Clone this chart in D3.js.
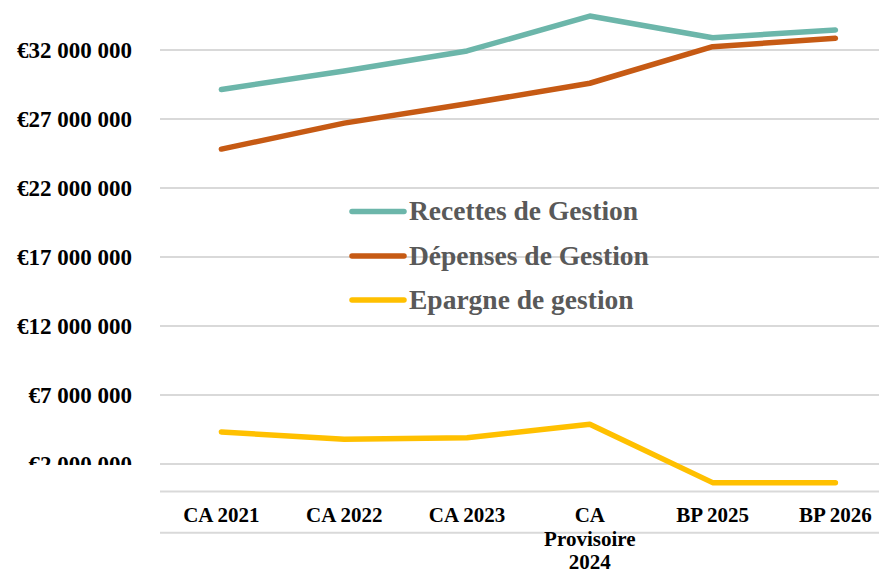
<!DOCTYPE html>
<html><head><meta charset="utf-8">
<script src="https://cdn.jsdelivr.net/npm/d3@7"></script>
<style>html,body{margin:0;padding:0;background:#fff;}svg{display:block;}</style>
</head><body>
<svg id="chart" width="879" height="574"></svg>
<script>
const categories = [["CA 2021"],["CA 2022"],["CA 2023"],["CA","Provisoire","2024"],["BP 2025"],["BP 2026"]];
const recettes = [29140000, 30480000, 31930000, 34460000, 32890000, 33450000];
const depenses = [24820000, 26700000, 28100000, 29590000, 32240000, 32850000];
const epargne  = [4320000, 3800000, 3900000, 4880000, 650000, 650000];
const yTicks = [2000000, 7000000, 12000000, 17000000, 22000000, 27000000, 32000000];
const seriesNames = ["Recettes de Gestion","Dépenses de Gestion","Epargne de gestion"];
const seriesColors = ["#6cb6aa","#c65a14","#ffc000"];

const svg = d3.select("#chart");
const W = 879, H = 574;
const x = d3.scaleBand().domain(d3.range(categories.length)).range([160, 160 + 6*122.8]).padding(0);
const y = d3.scaleLinear().domain([0, 32000000]).range([491.6, 50]);

// gridlines
const grid = svg.append("g");
grid.selectAll("line.g").data([0, ...yTicks]).join("line")
  .attr("x1", 160).attr("x2", W)
  .attr("y1", d => y(d)).attr("y2", d => y(d))
  .attr("stroke", "#d9d9d9").attr("stroke-width", 2);
grid.append("line").attr("x1",160).attr("x2",W).attr("y1",532.7).attr("y2",532.7)
  .attr("stroke","#d9d9d9").attr("stroke-width",2);

// y labels
const clip = svg.append("clipPath").attr("id","yclip");
clip.append("rect").attr("x",0).attr("y",0).attr("width",160).attr("height",y(2000000)+1);
const yAxis = d3.axisLeft(y).tickValues(yTicks).tickSize(0).tickPadding(0)
  .tickFormat(d => "€" + d3.format(",")(d).replace(/,/g, " "));
const outer = svg.append("g").attr("clip-path","url(#yclip)");
const yg = outer.append("g").attr("transform","translate(132,0)").call(yAxis);
yg.select(".domain").remove();
yg.selectAll("text").attr("font-family","'Liberation Serif', serif").attr("font-weight","bold")
  .attr("font-size", 23).attr("fill","#000").attr("dy", "0.32em").attr("text-anchor","end");

// x labels
const xg = svg.append("g");
categories.forEach((lines, i) => {
  const t = xg.append("text").attr("x", x(i) + x.bandwidth()/2).attr("y", 522)
    .attr("text-anchor","middle").attr("font-family","'Liberation Serif', serif")
    .attr("font-weight","bold").attr("font-size", 21).attr("fill","#000");
  lines.forEach((l, j) => t.append("tspan").attr("x", x(i) + x.bandwidth()/2).attr("dy", j === 0 ? 0 : 23.5).text(l));
});

// lines
const line = d3.line().x((d, i) => x(i) + x.bandwidth()/2).y(d => y(d));
[recettes, depenses, epargne].forEach((s, k) => {
  svg.append("path").datum(s).attr("d", line).attr("fill","none")
    .attr("stroke", seriesColors[k]).attr("stroke-width", 5.5)
    .attr("stroke-linecap","round").attr("stroke-linejoin","round");
});

// legend
const legY = [211.5, 256, 300];
const lg = svg.append("g");
seriesNames.forEach((n, k) => {
  lg.append("line").attr("x1", 352).attr("x2", 404).attr("y1", legY[k]).attr("y2", legY[k])
    .attr("stroke", seriesColors[k]).attr("stroke-width", 5.5).attr("stroke-linecap","round");
  lg.append("text").attr("x", 409).attr("y", legY[k] + 8.5)
    .attr("font-family","'Liberation Serif', serif").attr("font-weight","bold")
    .attr("font-size", 27.5).attr("fill","#595959").text(n);
});
</script>
</body></html>
